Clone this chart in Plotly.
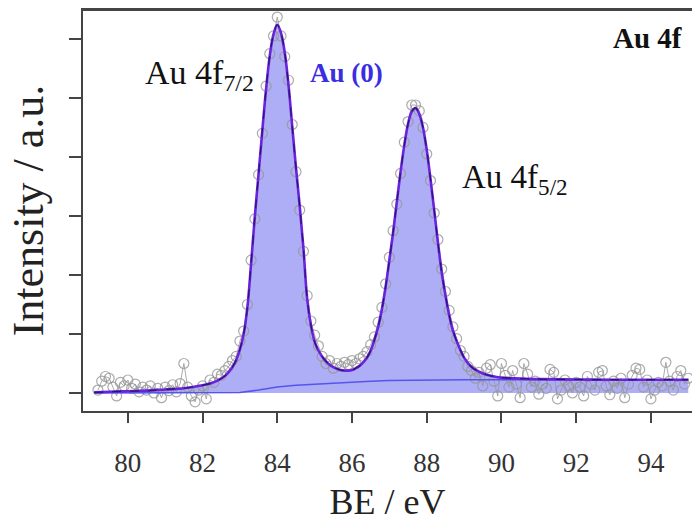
import plotly.graph_objects as go

# Experimental points (BE in eV, intensity in a.u.)
be_data = [round(79.2 + 0.1 * i, 1) for i in range(159)]
int_data = [
    0.05, 0.20, 0.28, 0.25, 0.10, -0.05, 0.18, 0.12, 0.22, 0.08,
    0.15, 0.02, 0.10, 0.05, 0.12, 0.00, 0.08, -0.08, 0.10, 0.04,
    0.14, 0.02, 0.16, 0.50, 0.10, -0.05, -0.15, 0.05, 0.12, -0.10,
    0.22, 0.18, 0.32, 0.30, 0.38, 0.45, 0.55, 0.62, 0.88, 1.05,
    1.50, 2.25, 2.95, 3.70, 4.40, 5.20, 5.75, 6.05, 6.37, 6.05,
    5.70, 5.30, 4.55, 3.75, 3.10, 2.40, 1.65, 1.22, 0.98, 0.80,
    0.62, 0.50, 0.55, 0.42, 0.50, 0.45, 0.52, 0.48, 0.55, 0.50,
    0.58, 0.62, 0.70, 0.82, 0.95, 1.20, 1.45, 1.85, 2.30, 2.75,
    3.20, 3.72, 4.25, 4.60, 4.88, 4.88, 4.78, 4.50, 4.05, 3.60,
    3.05, 2.60, 2.10, 1.72, 1.40, 1.12, 0.92, 0.72, 0.62, 0.45,
    0.38, 0.25, 0.35, 0.12, 0.42, 0.48, 0.20, -0.05, 0.50, 0.30,
    0.10, 0.38, 0.15, -0.08, 0.50, 0.32, 0.10, 0.20, -0.02, 0.15,
    0.08, 0.40, 0.35, -0.10, 0.05, 0.22, 0.12, 0.00, 0.18, 0.10,
    -0.05, 0.28, 0.15, 0.05, 0.35, 0.38, 0.12, -0.03, 0.20, 0.08,
    0.25, -0.08, 0.15, 0.30, 0.42, 0.40, 0.10, 0.22, -0.10, 0.05,
    0.18, 0.12, 0.52, 0.20, 0.05, 0.28, 0.38, 0.15, 0.25,
]

# Fitted envelope (Au(0) 4f doublet + background)
be_fit = [79.1, 79.5, 80.0, 80.5, 81.0, 81.5, 82.0, 82.2, 82.4, 82.6,
          82.8, 82.9, 83.0, 83.1, 83.2, 83.3, 83.4, 83.5, 83.6, 83.7,
          83.8, 83.9, 84.0, 84.1, 84.2, 84.3, 84.4, 84.5, 84.6, 84.7,
          84.8, 84.9, 85.0, 85.1, 85.2, 85.3, 85.4, 85.5, 85.6, 85.7,
          85.8, 85.9, 86.0, 86.1, 86.2, 86.3, 86.4, 86.5, 86.6, 86.7,
          86.8, 86.9, 87.0, 87.1, 87.2, 87.3, 87.4, 87.5, 87.6, 87.7,
          87.8, 87.9, 88.0, 88.1, 88.2, 88.3, 88.4, 88.5, 88.6, 88.7,
          88.8, 88.9, 89.0, 89.2, 89.4, 89.6, 89.8, 90.0, 90.5, 91.0,
          92.0, 93.0, 94.0, 95.0]
int_fit = [0.01, 0.02, 0.03, 0.04, 0.06, 0.08, 0.13, 0.16, 0.21, 0.29,
           0.44, 0.56, 0.74, 1.00, 1.45, 2.20, 3.00, 3.72, 4.45, 5.15,
           5.72, 6.08, 6.24, 6.10, 5.77, 5.22, 4.52, 3.82, 3.17, 2.45,
           1.60, 1.15, 0.87, 0.72, 0.62, 0.54, 0.48, 0.44, 0.41, 0.39,
           0.38, 0.38, 0.39, 0.42, 0.46, 0.52, 0.60, 0.72, 0.90, 1.12,
           1.42, 1.80, 2.25, 2.72, 3.24, 3.75, 4.20, 4.56, 4.77, 4.83,
           4.73, 4.50, 4.12, 3.63, 3.10, 2.55, 2.05, 1.66, 1.32, 1.06,
           0.88, 0.73, 0.60, 0.44, 0.36, 0.31, 0.28, 0.26, 0.245, 0.235,
           0.23, 0.225, 0.225, 0.225]

# Shirley-type background
be_bg = [79.1, 82.0, 83.0, 83.5, 84.0, 84.5, 85.0, 85.5, 86.0, 86.5,
         87.0, 87.5, 88.0, 88.5, 89.0, 95.0]
int_bg = [0.0, 0.0, 0.01, 0.05, 0.10, 0.13, 0.15, 0.17, 0.19, 0.20,
          0.21, 0.215, 0.22, 0.225, 0.225, 0.225]

x_ticks = [80, 82, 84, 86, 88, 90, 92, 94]
y_ticks = [0, 1, 2, 3, 4, 5, 6]

SERIF = "Liberation Serif, Times New Roman, serif"

fig = go.Figure()

# filled fit area
fig.add_trace(go.Scatter(
    x=be_fit, y=int_fit, mode="lines", fill="tozeroy",
    fillcolor="rgba(160,160,245,0.85)", line=dict(width=0),
    hoverinfo="skip", showlegend=False))

# experimental data
fig.add_trace(go.Scatter(
    x=be_data, y=int_data, mode="lines+markers",
    line=dict(color="rgba(150,150,150,0.8)", width=1),
    marker=dict(symbol="circle-open", size=10,
                line=dict(color="rgba(150,150,150,0.85)", width=1.2)),
    showlegend=False))

# background
fig.add_trace(go.Scatter(
    x=be_bg, y=int_bg, mode="lines",
    line=dict(color="#5555ee", width=1.5), showlegend=False))

# envelope
fig.add_trace(go.Scatter(
    x=be_fit, y=int_fit, mode="lines", line_shape="spline",
    line=dict(color="#6a22dd", width=2.6), showlegend=False))
fig.add_trace(go.Scatter(
    x=be_fit, y=int_fit, mode="lines", line_shape="spline",
    line=dict(color="#2a1570", width=1.2, dash="dash"), showlegend=False))

annots = [
    dict(x=81.93, y=5.39, text="Au 4f<sub>7/2</sub>",
         font=dict(family=SERIF, size=34, color="#111")),
    dict(x=85.86, y=5.42, text="<b>Au (0)</b>",
         font=dict(family=SERIF, size=27, color="#3a2ee0")),
    dict(x=93.9, y=6.02, text="<b>Au 4f</b>",
         font=dict(family=SERIF, size=29, color="#111")),
    dict(x=90.35, y=3.61, text="Au 4f<sub>5/2</sub>",
         font=dict(family=SERIF, size=33, color="#111")),
]
for a in annots:
    fig.add_annotation(xref="x", yref="y", showarrow=False, **a)

# top frame line
fig.add_shape(type="line", xref="paper", yref="paper", x0=0, x1=1, y0=1, y1=1,
              line=dict(color="#444", width=2), layer="above")

fig.update_layout(
    width=692, height=526,
    margin=dict(l=83, r=0, t=10, b=115),
    paper_bgcolor="white", plot_bgcolor="white",
    xaxis=dict(
        range=[78.8, 95.1], tickvals=x_ticks, ticks="outside", ticklen=10,
        tickwidth=1.5, tickcolor="#444", showline=True, linecolor="#444",
        linewidth=2, mirror=True, showgrid=False, zeroline=False,
        automargin=False, ticklabelstandoff=17,
        tickfont=dict(family=SERIF, size=27, color="#333"),
        title=dict(text="BE / eV", font=dict(family=SERIF, size=36, color="#222"),
                   standoff=11),
    ),
    yaxis=dict(
        range=[-0.305, 6.49], tickvals=y_ticks, ticks="outside", ticklen=12,
        tickwidth=1.5, tickcolor="#444", showline=True, linecolor="#444",
        linewidth=2, showgrid=False, zeroline=False, showticklabels=False,
        automargin=False,
        title=dict(text="Intensity / a.u.",
                   font=dict(family=SERIF, size=44, color="#222"), standoff=12),
    ),
)

# remove the default 8px body margin of the page, hide the mode bar
fig.write_html(
    "out.html",
    config={"displayModeBar": False},
    post_script="document.body.style.margin='0';document.body.style.overflow='hidden';",
)
